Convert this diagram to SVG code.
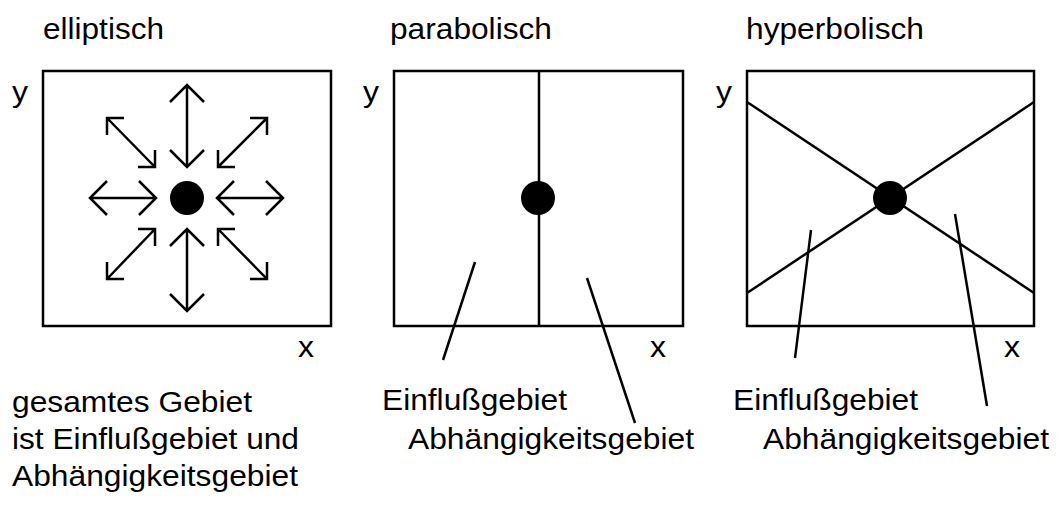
<svg xmlns="http://www.w3.org/2000/svg" width="1058" height="506" viewBox="0 0 1058 506">
<style>
text{font-family:"Liberation Sans",Arial,sans-serif;font-size:29px;fill:#000}
.box{fill:none;stroke:#000;stroke-width:2.5}
.ln{fill:none;stroke:#000;stroke-width:2.5;stroke-linecap:butt;stroke-linejoin:miter}
.dot{fill:#000}
</style>
<rect width="1058" height="506" fill="#fff"/>
<g id="titles">
<text x="43" y="39" textLength="121" lengthAdjust="spacingAndGlyphs">elliptisch</text>
<text x="390" y="39" textLength="162" lengthAdjust="spacingAndGlyphs">parabolisch</text>
<text x="746" y="39" textLength="178" lengthAdjust="spacingAndGlyphs">hyperbolisch</text>
</g>
<g id="elliptic">
<rect class="box" x="43" y="71" width="288" height="255"/>
<text x="12" y="102" textLength="16" lengthAdjust="spacingAndGlyphs">y</text>
<text x="298" y="357" textLength="16" lengthAdjust="spacingAndGlyphs">x</text>
<circle class="dot" cx="187" cy="198" r="17"/>
<g id="arrows">
<path class="ln" d="M187,85V167M170,102L187,85L204,102M170,150L187,167L204,150"/>
<path class="ln" d="M187,229V311M170,246L187,229L204,246M170,294L187,311L204,294"/>
<path class="ln" d="M90,198H156M107,181L90,198L107,215M139,181L156,198L139,215"/>
<path class="ln" d="M217,198H283M234,181L217,198L234,215M266,181L283,198L266,215"/>
<path class="ln" d="M107,118L155,167M124,118H107V135M138,167H155V150"/>
<path class="ln" d="M267,118L218,167M250,118H267V135M235,167H218V150"/>
<path class="ln" d="M155,229L107,279M138,229H155V246M124,279H107V262"/>
<path class="ln" d="M218,229L267,279M235,229H218V246M250,279H267V262"/>
</g>
</g>
<g id="parabolic">
<rect class="box" x="394" y="71" width="289" height="255"/>
<line class="ln" x1="539" y1="71" x2="539" y2="326"/>
<circle class="dot" cx="538" cy="198" r="17"/>
<text x="363" y="102" textLength="16" lengthAdjust="spacingAndGlyphs">y</text>
<text x="650" y="357" textLength="16" lengthAdjust="spacingAndGlyphs">x</text>
</g>
<g id="hyperbolic">
<rect class="box" x="747" y="71" width="287" height="255"/>
<line class="ln" x1="747" y1="102" x2="1034" y2="293"/>
<line class="ln" x1="747" y1="293" x2="1034" y2="102"/>
<circle class="dot" cx="890" cy="198" r="17"/>
<text x="716" y="102" textLength="16" lengthAdjust="spacingAndGlyphs">y</text>
<text x="1004" y="357" textLength="16" lengthAdjust="spacingAndGlyphs">x</text>
</g>
<g id="labels">
<text x="12" y="412" textLength="240" lengthAdjust="spacingAndGlyphs">gesamtes Gebiet</text>
<text x="12" y="449" textLength="287" lengthAdjust="spacingAndGlyphs">ist Einflußgebiet und</text>
<text x="12" y="486" textLength="286" lengthAdjust="spacingAndGlyphs">Abhängigkeitsgebiet</text>
<text x="382" y="410" textLength="185" lengthAdjust="spacingAndGlyphs">Einflußgebiet</text>
<text x="408" y="449" textLength="286" lengthAdjust="spacingAndGlyphs">Abhängigkeitsgebiet</text>
<text x="733" y="410" textLength="185" lengthAdjust="spacingAndGlyphs">Einflußgebiet</text>
<text x="763" y="449" textLength="286" lengthAdjust="spacingAndGlyphs">Abhängigkeitsgebiet</text>
</g>
<g id="connectors">
<line class="ln" x1="475" y1="262" x2="443" y2="360"/>
<line class="ln" x1="587" y1="278" x2="635" y2="423"/>
<line class="ln" x1="811" y1="230" x2="795" y2="358"/>
<line class="ln" x1="955" y1="214" x2="987" y2="406"/>
</g>
</svg>
